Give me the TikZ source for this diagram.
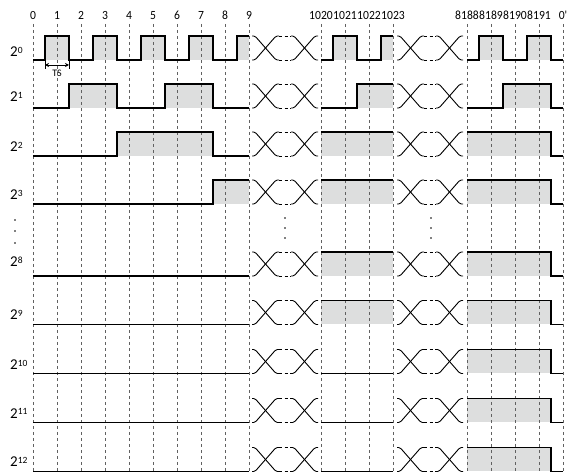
\documentclass[tikz,border=0pt]{standalone}
\usepackage{fontspec}
\setmainfont{Carlito}
\newfontfamily\condfont[FakeStretch=0.93]{Carlito}
\usetikzlibrary{arrows.meta}
\definecolor{sigfill}{RGB}{221,222,222}
\newcommand\myexp[1]{\raisebox{3.6pt}{\fontsize{9.5}{9.5}\selectfont #1}}
\begin{document}
\begin{tikzpicture}[x=1pt,y=-1pt,
  wave/.style={line width=1.1pt, draw=black, line join=miter},
  hifill/.style={fill=sigfill, draw=none},
  gridline/.style={draw=black!62, line width=0.75pt, dash pattern=on 3.5pt off 2.5pt},
  xarm/.style={draw=black, line width=0.9pt, rounded corners=1.5pt},
  xdash/.style={draw=black, line width=0.9pt, dash pattern=on 3pt off 2.5pt},
  toplabel/.style={font=\condfont\fontsize{12.5}{12.5}\selectfont, anchor=base, inner sep=0pt},
  rowlabel/.style={font=\fontsize{15}{15}\selectfont, anchor=base west, inner sep=0pt},
  dotmark/.style={fill=black},
  gapx/.pic={
    \draw[xarm] (0,-24) -- (3,-24) -- (24,0) -- (27,0);
    \draw[xarm] (0,0) -- (3,0) -- (24,-24) -- (27,-24);
    \draw[xdash] (27,-24) -- (39,-24);
    \draw[xdash] (27,0) -- (39,0);
    \draw[xarm] (39,-24) -- (42,-24) -- (63,0) -- (66,0);
    \draw[xarm] (39,0) -- (42,0) -- (63,-24) -- (66,-24);
  }]
\useasboundingbox (0,0) rectangle (574,473);

% ---------- fills ----------
\begin{scope}[shift={(0,60)}]
  \foreach \a/\b in {45/69,93/117,141/165,189/213,237/249,333/357,381/393,479/503,527/551}
    \fill[hifill] (\a,-24) rectangle (\b,0);
\end{scope}
\begin{scope}[shift={(0,108)}]
  \foreach \a/\b in {69/117,165/213,357/393,503/551}
    \fill[hifill] (\a,-24) rectangle (\b,0);
\end{scope}
\begin{scope}[shift={(0,156)}]
  \foreach \a/\b in {117/213,321/393,467/551}
    \fill[hifill] (\a,-24) rectangle (\b,0);
\end{scope}
\begin{scope}[shift={(0,204)}]
  \foreach \a/\b in {213/249,321/393,467/551}
    \fill[hifill] (\a,-24) rectangle (\b,0);
\end{scope}
\foreach \yy in {276,324.5}{
  \begin{scope}[shift={(0,\yy)}]
    \fill[hifill] (321,-24) rectangle (393,0);
    \fill[hifill] (467,-24) rectangle (551,0);
  \end{scope}
}
\foreach \yy in {373.5,422.5,471.5}{
  \begin{scope}[shift={(0,\yy)}]
    \fill[hifill] (467,-24) rectangle (551,0);
  \end{scope}
}

% ---------- grid ----------
\foreach \x in {33,57,81,105,129,153,177,201,225,249,321,345,369,393,467,491,515,539,563}
  \draw[gridline] (\x,24) -- (\x,473);

% ---------- waveforms ----------
\begin{scope}[shift={(0,60)}]
  \draw[wave] (33,0) -| (45,-24) -| (69,0) -| (93,-24) -| (117,0) -| (141,-24) -| (165,0) -| (189,-24) -| (213,0) -| (237,-24) -- (249,-24);
  \draw[wave] (321,0) -| (333,-24) -| (357,0) -| (381,-24) -- (393,-24);
  \draw[wave] (467,0) -| (479,-24) -| (503,0) -| (527,-24) -| (551,0) -- (563,0);
\end{scope}
\begin{scope}[shift={(0,108)}]
  \draw[wave] (33,0) -| (69,-24) -| (117,0) -| (165,-24) -| (213,0) -- (249,0);
  \draw[wave] (321,0) -| (357,-24) -- (393,-24);
  \draw[wave] (467,0) -| (503,-24) -| (551,0) -- (563,0);
\end{scope}
\begin{scope}[shift={(0,156)}]
  \draw[wave] (33,0) -| (117,-24) -| (213,0) -- (249,0);
  \draw[wave] (321,-24) -- (393,-24);
  \draw[wave] (467,-24) -| (551,0) -- (563,0);
\end{scope}
\begin{scope}[shift={(0,204)}]
  \draw[wave] (33,0) -| (213,-24) -- (249,-24);
  \draw[wave] (321,-24) -- (393,-24);
  \draw[wave] (467,-24) -| (551,0) -- (563,0);
\end{scope}
\foreach \yy in {276,324.5}{
  \begin{scope}[shift={(0,\yy)}]
    \draw[wave] (33,0) -- (249,0);
    \draw[wave] (321,-24) -- (393,-24);
    \draw[wave] (467,-24) -| (551,0) -- (563,0);
  \end{scope}
}
\foreach \yy in {373.5,422.5,471.5}{
  \begin{scope}[shift={(0,\yy)}]
    \draw[wave] (33,0) -- (249,0);
    \draw[wave] (321,0) -- (393,0);
    \draw[wave] (467,-24) -| (551,0) -- (563,0);
  \end{scope}
}

% ---------- gap crossings ----------
\foreach \yy in {60,108,156,204,276,324.5,373.5,422.5,471.5}{
  \pic at (252,\yy) {gapx};
  \pic at (397,\yy) {gapx};
}

% ---------- vertical dots ----------
\foreach \yy in {220,231,243} \fill[dotmark] (15,\yy) circle (0.9);
\foreach \yy in {218,228,238} {
  \fill[dotmark] (285,\yy) circle (0.9);
  \fill[dotmark] (431,\yy) circle (0.9);
}

% ---------- TS ----------
\coordinate (tsL) at (45,65);
\coordinate (tsR) at (69,65);
\draw[line width=0.6pt] (45,61) -- (45,69);
\draw[line width=0.6pt] (69,61) -- (69,69);
\draw[line width=0.7pt, {Stealth[length=4pt,width=4pt]}-{Stealth[length=4pt,width=4pt]}] (tsL) -- (tsR);
\node[font=\fontsize{10}{10}\selectfont, inner sep=0pt] (ts) at (57,73.5) {TS};

% ---------- top labels ----------
\foreach \i in {0,...,9}
  \node[toplabel] (t\i) at (33+24*\i,20) {\i};
\foreach \n [count=\j from 0] in {1020,1021,1022,1023}
  \node[toplabel] (t\n) at (321+24*\j,20) {\n};
\foreach \n [count=\j from 0] in {8188,8189,8190,8191}
  \node[toplabel] (t\n) at (467+24*\j,20) {\n};
\node[toplabel] (tend) at (563,20) {0'};

% ---------- row labels ----------
\node[rowlabel] (r0) at (10,57) {2\myexp{0}};
\node[rowlabel] (r1) at (10,102) {2\myexp{1}};
\node[rowlabel] (r2) at (10,151.7) {2\myexp{2}};
\node[rowlabel] (r3) at (10,200) {2\myexp{3}};
\node[rowlabel] (r8) at (10,267) {2\myexp{8}};
\node[rowlabel] (r9) at (10,320) {2\myexp{9}};
\node[rowlabel] (r10) at (10,370) {2\myexp{10}};
\node[rowlabel] (r11) at (10,418.3) {2\myexp{11}};
\node[rowlabel] (r12) at (10,466.7) {2\myexp{12}};
\end{tikzpicture}
\end{document}
